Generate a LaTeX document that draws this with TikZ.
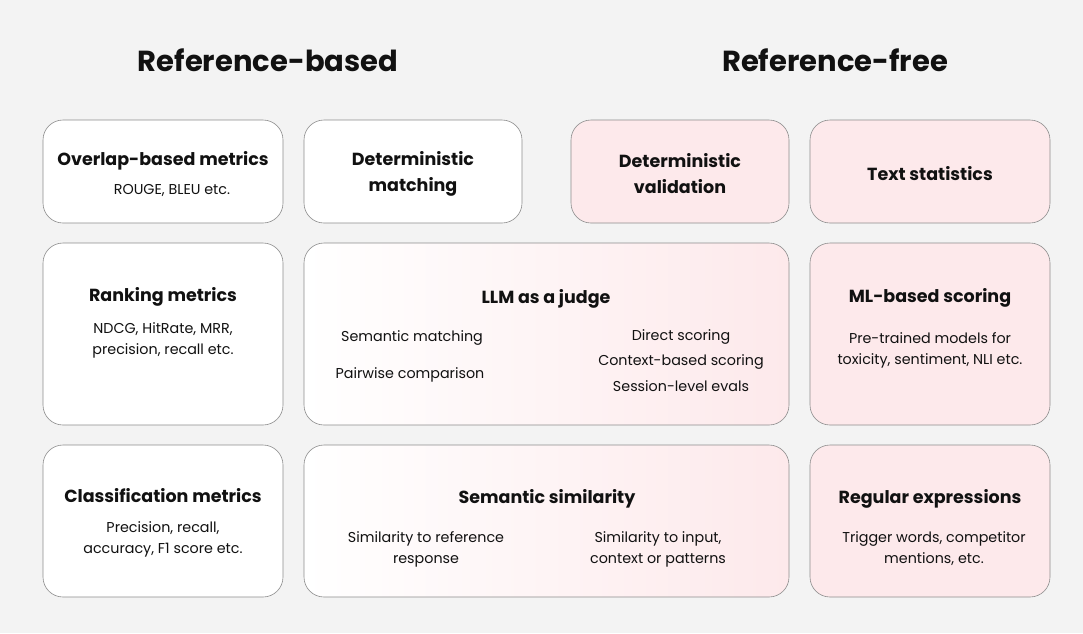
\documentclass[tikz,border=0pt]{standalone}
\usepackage{fontspec}
\setmainfont{Poppins}
\usetikzlibrary{positioning, calc, shapes}
\definecolor{pagebg}{HTML}{F3F3F3}
\definecolor{rosefill}{HTML}{FDE9EB}
\definecolor{edgegray}{HTML}{8C8C8C}
\definecolor{inkblack}{HTML}{111111}
\begin{document}
\begin{tikzpicture}[x=1pt, y=-1pt,
				card/.style = {rectangle, rounded corners = 20pt, draw = edgegray, line width = 0.6pt, inner sep = 0pt},
				whitecard/.style = {card, fill = white},
				rosecard/.style = {card, fill = rosefill},
				fadecard/.style = {card, left color = white, middle color = rosefill!75, right color = rosefill},
				heading/.style = {font = \fontsize{29}{34}\selectfont\bfseries, text = inkblack},
				cardtitle/.style = {font = \fontsize{17.5}{26}\selectfont\bfseries, text = inkblack, align = center, yshift = -2pt},
				cardtext/.style = {font = \fontsize{14.3}{21}\selectfont, text = inkblack, align = center, yshift = -2pt},
			]
			\fill[pagebg] (0,0) rectangle (1083,633);
			\useasboundingbox (0,0) rectangle (1083,633);

			% headings
			\node[heading](HL) at (268,60){Reference-based};
			\node[heading](HR) at (835,60){Reference-free};

			% row 1
			\node[whitecard, minimum width = 240pt, minimum height = 103pt](OV) at (163,171.5){};
			\node[whitecard, minimum width = 218pt, minimum height = 103pt](DM) at (413,171.5){};
			\node[rosecard, minimum width = 218pt, minimum height = 103pt](DV) at (680,171.5){};
			\node[rosecard, minimum width = 240pt, minimum height = 103pt](TS) at (930,171.5){};

			% row 2
			\node[whitecard, minimum width = 240pt, minimum height = 182pt](RK) at (163,334){};
			\node[fadecard, minimum width = 485pt, minimum height = 182pt](LJ) at (546.5,334){};
			\node[rosecard, minimum width = 240pt, minimum height = 182pt](ML) at (930,334){};

			% row 3
			\node[whitecard, minimum width = 240pt, minimum height = 152pt](CL) at (163,521){};
			\node[fadecard, minimum width = 485pt, minimum height = 152pt](SS) at (546.5,521){};
			\node[rosecard, minimum width = 240pt, minimum height = 152pt](RE) at (930,521){};

			% texts
			\node[cardtitle](OVt) at (163,159){Overlap-based metrics};
			\node[cardtext](OVs) at (172,188){ROUGE, BLEU etc.};
			\node[cardtitle](DMt) at (413,172){Deterministic\\matching};
			\node[cardtitle](DVt) at (680,172){Deterministic\\validation};
			\node[cardtitle](TSt) at (930,172){Text statistics};

			\node[cardtitle](RKt) at (163,295){Ranking metrics};
			\node[cardtext](RKs) at (163,338){NDCG, HitRate, MRR,\\precision, recall etc.};
			\node[cardtitle](LJt) at (546,297){LLM as a judge};
			\node[cardtext](LJa) at (412,336){Semantic matching};
			\node[cardtext](LJb) at (410,373){Pairwise comparison};
			\node[cardtext](LJc) at (681,335){Direct scoring};
			\node[cardtext](LJd) at (681,360){Context-based scoring};
			\node[cardtext](LJe) at (681,384){Session-level evals};
			\node[cardtitle](MLt) at (930,296){ML-based scoring};
			\node[cardtext](MLs) at (930,348){Pre-trained models for\\toxicity, sentiment, NLI etc.};

			\node[cardtitle](CLt) at (163,494){Classification metrics};
			\node[cardtext](CLs) at (163,537.5){Precision, recall,\\accuracy, F1 score etc.};
			\node[cardtitle](SSt) at (547,497){Semantic similarity};
			\node[cardtext](SSa) at (426,547){Similarity to reference\\response};
			\node[cardtext](SSb) at (658,547){Similarity to input,\\context or patterns};
			\node[cardtitle](REt) at (930,497){Regular expressions};
			\node[cardtext](REs) at (934,547){Trigger words, competitor\\mentions, etc.};

		\end{tikzpicture}
\end{document}
